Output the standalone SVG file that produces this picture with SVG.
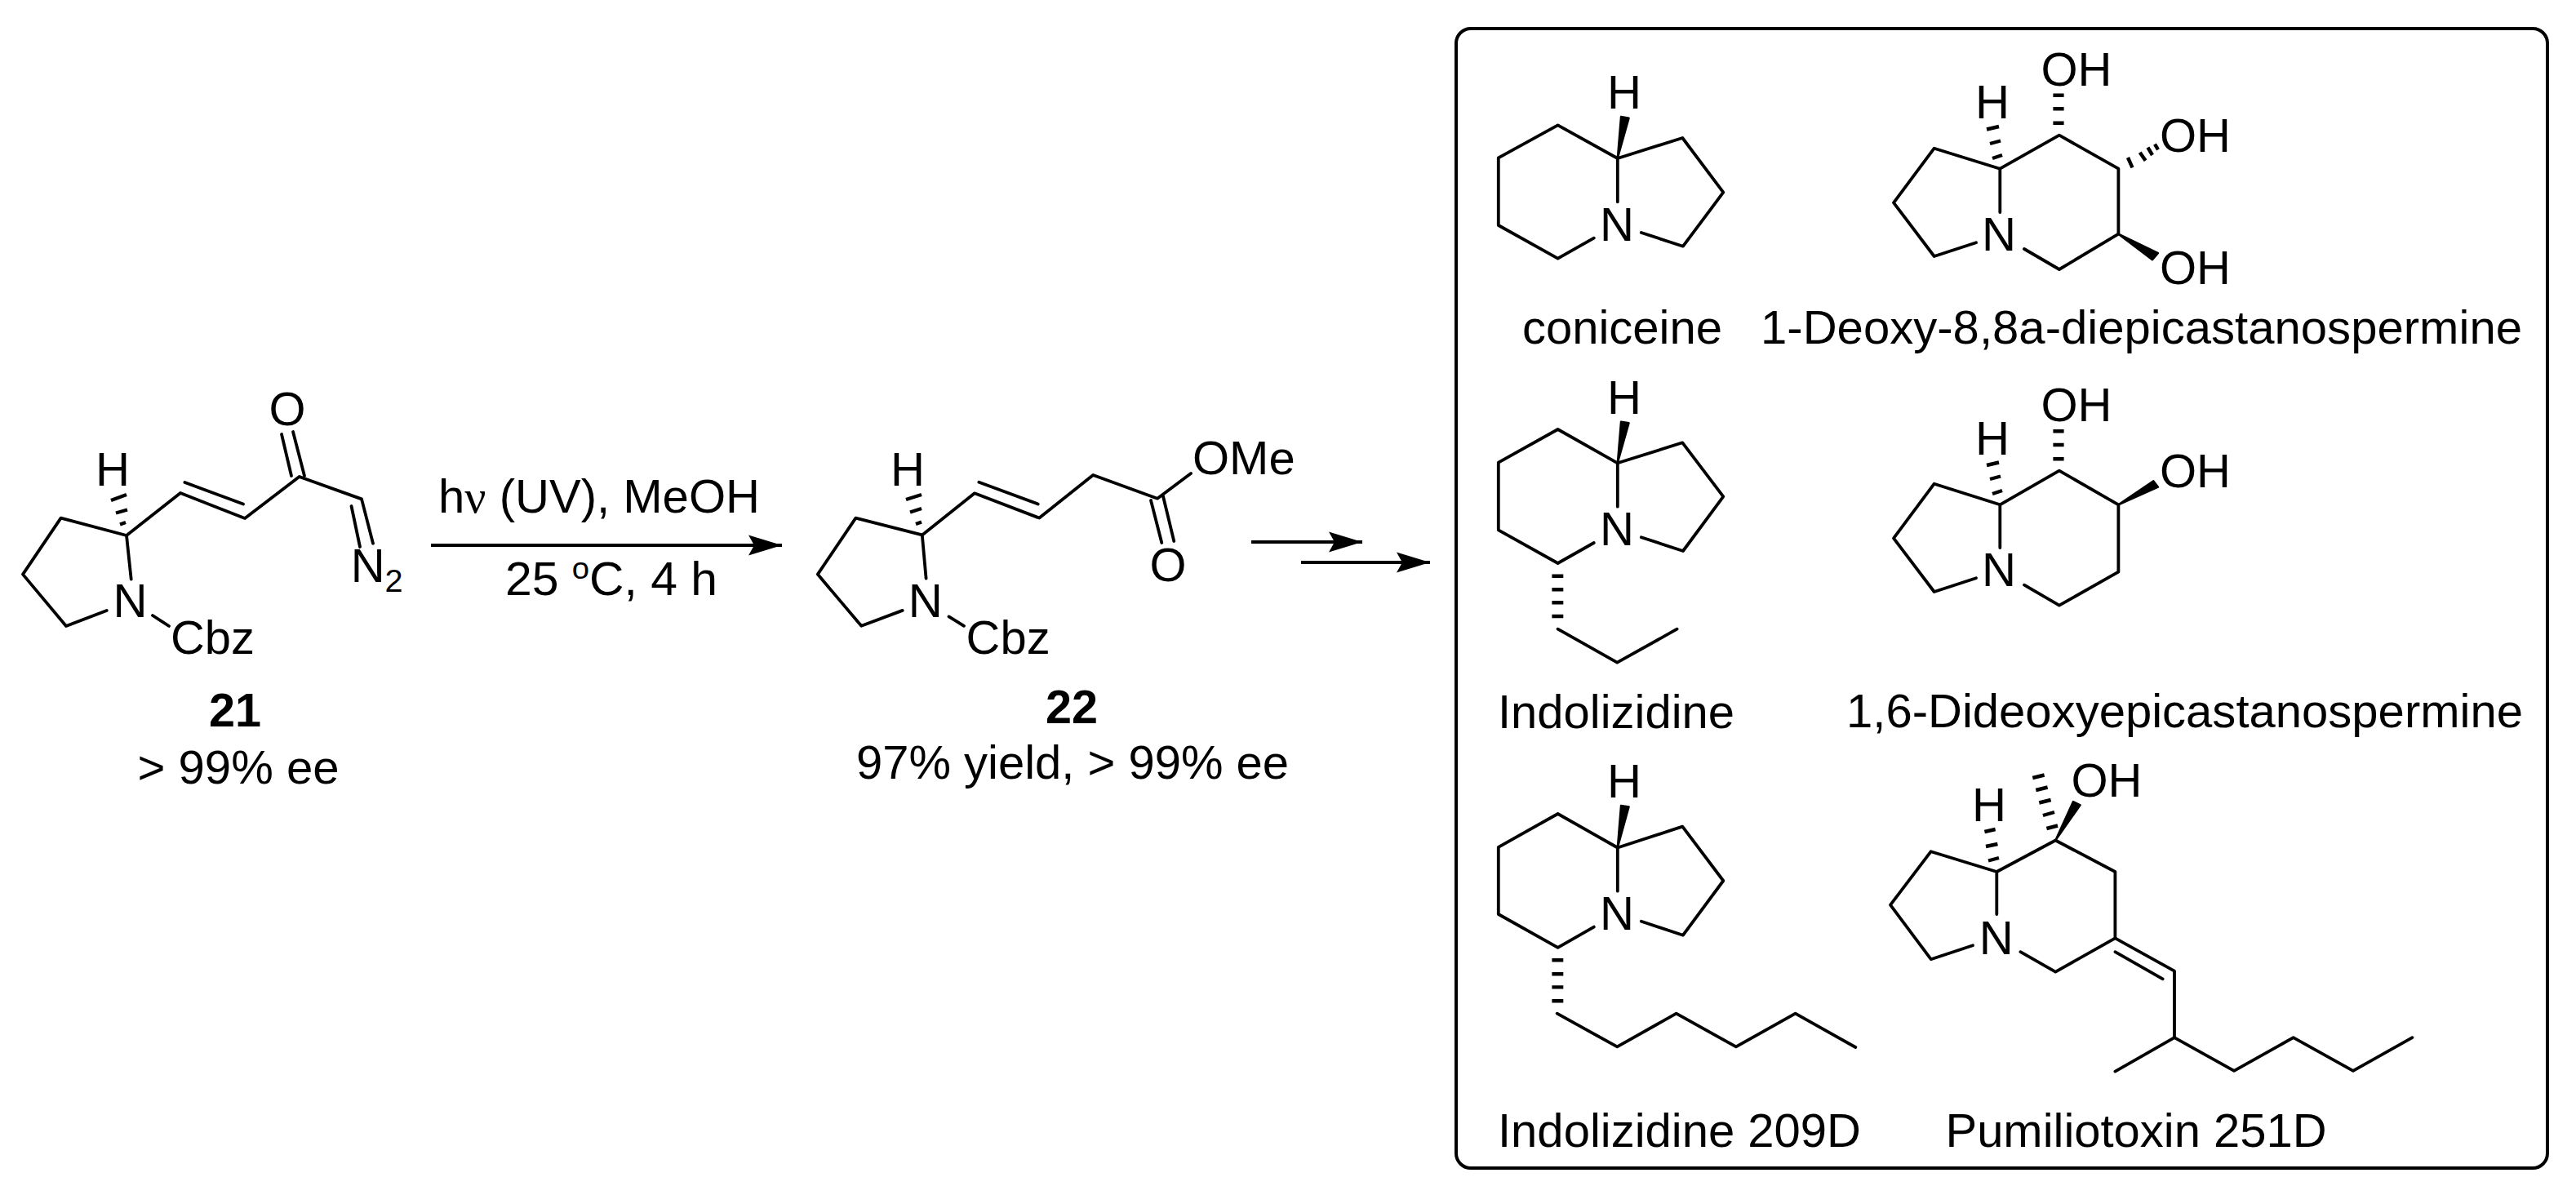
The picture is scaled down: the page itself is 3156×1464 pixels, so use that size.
<svg xmlns="http://www.w3.org/2000/svg" width="3156" height="1464" viewBox="0 0 3156 1464">
<style>
text{font-family:"Liberation Sans",Arial,sans-serif;font-size:57px;fill:#000}
.m{text-anchor:middle}
.bold{font-weight:700}
.b{fill:none;stroke:#000;stroke-width:3.8;stroke-linejoin:round;stroke-linecap:round}
.d{fill:none;stroke:#000;stroke-width:4.4;stroke-linecap:butt}
.w{fill:#000;stroke:#000;stroke-width:2.4;stroke-linejoin:round}
.a{fill:none;stroke:#000;stroke-width:4}
</style>
<defs>
<marker id="head" markerUnits="userSpaceOnUse" markerWidth="44" markerHeight="28" refX="41" refY="14" orient="auto">
<path d="M0 1.5L41 14L0 26.500L7 14Z" fill="#000"/>
</marker>
</defs>
<rect width="3156" height="1464" fill="#fff"/>
<g id="compound-21">
<polyline class="b" points="160.700,709.600 155,656 74.600,634.600 28,703.600 81,767 130.700,748"/>
<polyline class="b" points="155,656 221,604 300,635 366.700,584 443,611.400 457,665.700"/>
<line class="b" x1="226.400" y1="591" x2="298" y2="617.500"/>
<line class="b" x1="345" y1="532" x2="357" y2="583"/>
<line class="b" x1="359" y1="529" x2="373" y2="583"/>
<line class="b" x1="430.500" y1="620" x2="441" y2="670"/>
<line class="b" x1="187" y1="754" x2="207" y2="767"/>
<path class="d" d="M147 642.500L154 640M142 628.500L156 624.500M136 613L155 606"/>
<text class="m" x="138" y="595" textLength="42" lengthAdjust="spacingAndGlyphs">H</text>
<text class="m" x="159.500" y="756" textLength="42" lengthAdjust="spacingAndGlyphs">N</text>
<text x="209" y="801" textLength="103" lengthAdjust="spacingAndGlyphs">Cbz</text>
<text class="m" x="352" y="521" textLength="45" lengthAdjust="spacingAndGlyphs">O</text>
<text x="429.700" y="713" textLength="64" lengthAdjust="spacingAndGlyphs">N<tspan dy="12" font-size="39">2</tspan></text>
<text class="m bold" x="288" y="890" textLength="64" lengthAdjust="spacingAndGlyphs">21</text>
<text class="m" x="292" y="960" textLength="247" lengthAdjust="spacingAndGlyphs">&gt; 99% ee</text>
</g>
<g id="compound-22">
<polyline class="b" points="1134.600,708.600 1129.800,655.400 1048.400,634.600 1001.800,703.600 1055.300,766.800 1105.700,747.900"/>
<polyline class="b" points="1129.800,655.400 1194,604.300 1273.300,634.600 1339.200,582 1418,610.700 1459,580"/>
<line class="b" x1="1199.400" y1="590.700" x2="1271.700" y2="617.500"/>
<line class="b" x1="1410" y1="613" x2="1423.300" y2="665"/>
<line class="b" x1="1425" y1="608" x2="1438.300" y2="663"/>
<line class="b" x1="1162.500" y1="755.400" x2="1181" y2="766.800"/>
<path class="d" d="M1122 642L1129 639.500M1115 627.500L1129 623M1110 612L1129 606"/>
<text class="m" x="1112" y="595" textLength="42" lengthAdjust="spacingAndGlyphs">H</text>
<text class="m" x="1133.700" y="756" textLength="42" lengthAdjust="spacingAndGlyphs">N</text>
<text x="1183.600" y="801" textLength="103" lengthAdjust="spacingAndGlyphs">Cbz</text>
<text x="1461" y="581" textLength="125.700" lengthAdjust="spacingAndGlyphs">OMe</text>
<text class="m" x="1431" y="712" textLength="45" lengthAdjust="spacingAndGlyphs">O</text>
<text class="m bold" x="1313" y="886" textLength="64" lengthAdjust="spacingAndGlyphs">22</text>
<text class="m" x="1314" y="954" textLength="530" lengthAdjust="spacingAndGlyphs">97% yield, &gt; 99% ee</text>
</g>
<g id="panel">
<rect x="1784" y="35" width="1337" height="1396" rx="18" ry="18" fill="none" stroke="#000" stroke-width="4"/>
</g>
<g id="coniceine">
<polyline class="b" points="1952.800,291.700 1908.600,316.700 1835.800,276 1835.800,193.300 1908.600,153.300 1981.800,194 1981.800,247.300"/>
<polyline class="b" points="1981.800,194 2061.300,169 2111.300,235.700 2062,301.700 2010.800,285"/>
<polygon class="w" points="1981.800,194 1986,143 1995.600,144.800"/>
<text class="m" x="1990" y="133.300" textLength="42" lengthAdjust="spacingAndGlyphs">H</text>
<text class="m" x="1981" y="295" textLength="42" lengthAdjust="spacingAndGlyphs">N</text>
<text x="1865" y="421" textLength="245" lengthAdjust="spacingAndGlyphs">coniceine</text>
</g>
<g id="deoxy-diepicastanospermine">
<polyline class="b" points="2450.300,260 2450.300,206.700 2369.700,181.700 2320,248.300 2369.700,314 2421,297.300"/>
<polyline class="b" points="2450.300,206.700 2522.900,165.700 2595.400,206.700 2595.400,286.700 2522.900,330 2480,305"/>
<path class="d" d="M2434 158.500L2449 155M2438 176L2451 172.500M2441 194L2453 190M2515.400 116.700H2528.600M2515.400 133.300H2528.600M2515.400 150.700H2528.600"/>
<path class="d" d="M2607 193L2612.500 205.300M2621.700 186.700L2628.600 196.700M2631.400 180.700L2637 190M2640 176.700L2644 183.300"/>
<polygon class="w" points="2595.400,286.700 2644,310 2637,318.300"/>
<text class="m" x="2441" y="145" textLength="42" lengthAdjust="spacingAndGlyphs">H</text>
<text class="m" x="2449" y="306.700" textLength="42" lengthAdjust="spacingAndGlyphs">N</text>
<text x="2500.500" y="105" textLength="87" lengthAdjust="spacingAndGlyphs">OH</text>
<text x="2646" y="185.700" textLength="87" lengthAdjust="spacingAndGlyphs">OH</text>
<text x="2646" y="348.300" textLength="87" lengthAdjust="spacingAndGlyphs">OH</text>
<text x="2157" y="421" textLength="933" lengthAdjust="spacingAndGlyphs">1-Deoxy-8,8a-diepicastanospermine</text>
</g>
<g id="indolizidine">
<polyline class="b" points="1952.800,665 1908.600,690 1835.800,649.300 1835.800,566.700 1908.600,526 1981.800,567.300 1981.800,620.700"/>
<polyline class="b" points="1981.800,567.300 2061.300,542.300 2111.300,608.300 2062,675 2010.800,658.300"/>
<polygon class="w" points="1981.800,567.300 1986,516.700 1995.600,518.200"/>
<path class="d" d="M1901.400 705.700H1915.300M1901.400 722.300H1915.300M1901.400 738.300H1915.300M1901.400 755H1915.300"/>
<polyline class="b" points="1908.600,770.700 1981.300,811.700 2054.600,770.700"/>
<text class="m" x="1990" y="506.700" textLength="42" lengthAdjust="spacingAndGlyphs">H</text>
<text class="m" x="1981" y="668.300" textLength="42" lengthAdjust="spacingAndGlyphs">N</text>
<text x="1835" y="891.700" textLength="290" lengthAdjust="spacingAndGlyphs">Indolizidine</text>
</g>
<g id="dideoxyepicastanospermine">
<polyline class="b" points="2450.300,671 2450.300,618.300 2369.700,592.700 2320,659.300 2369.700,725 2421,708.300"/>
<polyline class="b" points="2450.300,618.300 2522.900,576.700 2595.400,618.300 2595.400,700.700 2522.900,741.700 2480,716.700"/>
<path class="d" d="M2434 570L2449 566.500M2438 587L2451 583.500M2441 605L2453 601M2515.400 528.300H2528.600M2515.400 545H2528.600M2515.400 562.300H2528.600"/>
<polygon class="w" points="2595.400,618.300 2638.300,589.300 2644,596.700"/>
<text class="m" x="2441" y="556.700" textLength="42" lengthAdjust="spacingAndGlyphs">H</text>
<text class="m" x="2449" y="718" textLength="42" lengthAdjust="spacingAndGlyphs">N</text>
<text x="2500.500" y="516" textLength="87" lengthAdjust="spacingAndGlyphs">OH</text>
<text x="2646" y="597" textLength="87" lengthAdjust="spacingAndGlyphs">OH</text>
<text x="2262" y="890.700" textLength="829" lengthAdjust="spacingAndGlyphs">1,6-Dideoxyepicastanospermine</text>
</g>
<g id="indolizidine-209d">
<polyline class="b" points="1952.800,1135.600 1908.600,1160.800 1835.800,1120 1835.800,1037.800 1908.600,997 1981.800,1038.500 1981.800,1091.700"/>
<polyline class="b" points="1981.800,1038.500 2061.300,1012.600 2111.300,1079 2062,1145.700 2010.800,1128.800"/>
<polygon class="w" points="1981.800,1038.500 1986,987 1995.600,988.500"/>
<path class="d" d="M1901.400 1176.300H1915.300M1901.400 1193.200H1915.300M1901.400 1209.400H1915.300M1901.400 1226.300H1915.300"/>
<polyline class="b" points="1907.700,1241.700 1981.300,1282.400 2053.700,1241.700 2126.900,1282.400 2199.600,1241.700 2273.300,1283"/>
<text class="m" x="1990" y="977.300" textLength="42" lengthAdjust="spacingAndGlyphs">H</text>
<text class="m" x="1981" y="1139.200" textLength="42" lengthAdjust="spacingAndGlyphs">N</text>
<text x="1835" y="1405" textLength="445" lengthAdjust="spacingAndGlyphs">Indolizidine 209D</text>
</g>
<g id="pumiliotoxin-251d">
<polyline class="b" points="2446.300,1120 2446.300,1068 2365.700,1043.200 2316,1108.600 2365.700,1175.200 2417,1158.300"/>
<polyline class="b" points="2446.300,1068 2518.300,1029.500 2591.400,1068 2591.400,1149.300 2518.300,1190.600 2475.400,1166.200"/>
<polyline class="b" points="2591.400,1149.300 2664,1189.600 2664,1271.200 2737.100,1311.900 2809.700,1271.200 2882.900,1311.900 2955.400,1271.200"/>
<line class="b" x1="2664" y1="1271.200" x2="2591.400" y2="1312.600"/>
<line class="b" x1="2591.400" y1="1166.200" x2="2649.700" y2="1199.300"/>
<path class="d" d="M2431.400 1019L2444.600 1016M2433 1037L2447.400 1034M2436 1054.500L2449 1051"/>
<path class="d" d="M2490.300 953L2504.600 949.500M2494.300 968L2508.600 964.500M2498.300 983.500L2512.600 980M2502.900 999L2517 995M2507.400 1015L2521 1011.500"/>
<polygon class="w" points="2518.300,1029.500 2540,982 2548.600,986.300"/>
<text class="m" x="2437" y="1006" textLength="42" lengthAdjust="spacingAndGlyphs">H</text>
<text class="m" x="2445.700" y="1169" textLength="42" lengthAdjust="spacingAndGlyphs">N</text>
<text x="2537.500" y="976" textLength="87" lengthAdjust="spacingAndGlyphs">OH</text>
<text x="2383.500" y="1404.700" textLength="467" lengthAdjust="spacingAndGlyphs">Pumiliotoxin 251D</text>
</g>
<g id="connectors">
<line class="a" x1="528" y1="668" x2="958" y2="668" marker-end="url(#head)"/>
<line class="a" x1="1533" y1="664" x2="1669" y2="664" marker-end="url(#head)"/>
<line class="a" x1="1594" y1="689" x2="1752" y2="689" marker-end="url(#head)"/>
</g>
<g id="conditions">
<text x="537" y="628" textLength="394" lengthAdjust="spacingAndGlyphs">h<tspan font-family="'Liberation Serif',serif">ν</tspan> (UV), MeOH</text>
<text x="619" y="729" textLength="260" lengthAdjust="spacingAndGlyphs">25 <tspan dy="-20" font-size="37">o</tspan><tspan dy="20">C, 4 h</tspan></text>
</g>
</svg>
